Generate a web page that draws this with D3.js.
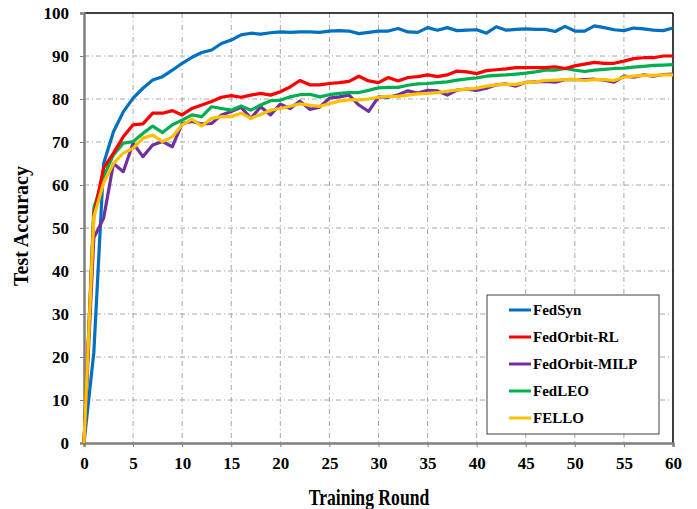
<!DOCTYPE html>
<html>
<head>
<meta charset="utf-8">
<script src="https://cdn.jsdelivr.net/npm/d3@7"></script>
<style>
  body { margin: 0; background: #fff; }
  text { font-family: "Liberation Serif", "Times New Roman", serif; font-weight: bold; }
</style>
</head>
<body>
<script>
// rounds 0..60
const rounds = d3.range(0, 61);

const fedSyn = [0, 21, 65, 72.4, 77, 80.2, 82.5, 84.4, 85.2, 86.7, 88.3, 89.7, 90.8, 91.4, 92.9, 93.7, 94.9, 95.3, 95.1, 95.4,
  95.6, 95.5, 95.6, 95.6, 95.5, 95.8, 95.9, 95.8, 95.2, 95.5, 95.8, 95.8, 96.4, 95.6, 95.5, 96.6, 96.0, 96.6, 95.9, 96.0,
  96.1, 95.3, 96.8, 96.0, 96.2, 96.3, 96.2, 96.2, 95.7, 96.9, 95.8, 95.8, 97.0, 96.6, 96.1, 95.9, 96.5, 96.3, 96.0, 95.9, 96.5];
const fedOrbitRL = [0, 53, 64, 67.4, 71.2, 74.0, 74.2, 76.7, 76.7, 77.3, 76.3, 77.8, 78.6, 79.4, 80.4, 80.8, 80.4, 80.9, 81.3, 80.9,
  81.7, 82.8, 84.3, 83.3, 83.3, 83.6, 83.8, 84.1, 85.3, 84.2, 83.8, 85.0, 84.2, 85.0, 85.2, 85.6, 85.2, 85.6, 86.5, 86.3,
  85.9, 86.6, 86.8, 87.0, 87.3, 87.3, 87.3, 87.3, 87.5, 87.1, 87.7, 88.1, 88.5, 88.3, 88.3, 88.8, 89.4, 89.6, 89.6, 90.0, 90.0];
const fedOrbitMILP = [0, 47.7, 52.3, 65, 63.1, 69.7, 66.6, 69.3, 70.1, 68.9, 74.3, 74.8, 74.2, 74.3, 76.3, 77.1, 78.1, 75.5, 78.2, 76.3,
  78.8, 77.8, 79.5, 77.6, 78.1, 80.2, 80.5, 80.9, 78.6, 77.1, 80.5, 80.4, 81.0, 81.9, 81.4, 82.0, 81.9, 80.9, 82.1, 82.3,
  82.0, 82.5, 83.3, 83.5, 83.0, 83.9, 84.0, 84.1, 83.9, 84.5, 84.5, 84.5, 84.6, 84.4, 83.9, 85.3, 85.1, 85.6, 85.3, 85.7, 85.8];
const fedLEO = [0, 54.6, 62, 67, 69.7, 70.1, 72.0, 73.7, 72.2, 74.0, 75.1, 76.3, 75.9, 78.2, 77.8, 77.4, 78.4, 77.4, 78.6, 79.6,
  79.7, 80.5, 81.0, 81.1, 80.5, 81.0, 81.3, 81.5, 81.5, 82.0, 82.6, 82.7, 82.7, 83.2, 83.5, 83.6, 83.8, 84.0, 84.4, 84.7,
  84.9, 85.3, 85.5, 85.6, 85.8, 86.0, 86.3, 86.7, 86.7, 87.1, 86.7, 86.4, 86.7, 86.9, 87.1, 87.2, 87.4, 87.6, 87.8, 87.9, 88.0];
const fello = [0, 52.6, 60.5, 65, 67.4, 68.5, 70.9, 71.6, 70.1, 71.2, 74.0, 75.3, 73.7, 75.5, 75.9, 75.9, 76.7, 75.5, 76.4, 77.4,
  77.8, 78.3, 78.9, 78.5, 78.3, 78.9, 79.5, 79.8, 79.8, 80.0, 80.4, 80.6, 80.6, 80.9, 81.2, 81.3, 81.5, 81.8, 82.1, 82.3,
  82.5, 83.0, 83.3, 83.4, 83.4, 83.8, 84.0, 84.3, 84.4, 84.5, 84.6, 84.3, 84.5, 84.5, 84.3, 85.1, 85.3, 85.5, 85.5, 85.6, 85.6];

const seriesNames = ["FedSyn", "FedOrbit-RL", "FedOrbit-MILP", "FedLEO", "FELLO"];
const seriesColors = ["#0070C0", "#FF0000", "#7030A0", "#00B050", "#FFC000"];
const seriesValues = [fedSyn, fedOrbitRL, fedOrbitMILP, fedLEO, fello];
// drawing order (last on top)
const drawOrder = [0, 2, 3, 1, 4];

const xTicks = d3.range(0, 61, 5);
const yTicks = d3.range(0, 101, 10);

const W = 697, H = 509;
const margin = { top: 13, right: 24, bottom: 66, left: 84 };
const width = W - margin.left - margin.right,
  height = H - margin.top - margin.bottom;

const svg = d3.select("body").append("svg")
  .attr("width", W).attr("height", H);

const g = svg.append("g")
  .attr("transform", `translate(${margin.left},${margin.top})`);

const x = d3.scaleLinear().domain([0, 60]).range([0, width]);
const y = d3.scaleLinear().domain([0, 100]).range([height, 0]);

// grid
g.append("g").selectAll("line.gx")
  .data(xTicks.slice(1, -1))
  .join("line")
  .attr("x1", d => x(d)).attr("x2", d => x(d))
  .attr("y1", 0).attr("y2", height)
  .attr("stroke", "#a6a6a6").attr("stroke-width", 1)
  .attr("stroke-dasharray", "5,3,1,3");
g.append("g").selectAll("line.gy")
  .data(yTicks.slice(1, -1))
  .join("line")
  .attr("x1", 0).attr("x2", width)
  .attr("y1", d => y(d)).attr("y2", d => y(d))
  .attr("stroke", "#a6a6a6").attr("stroke-width", 1)
  .attr("stroke-dasharray", "5,3,1,3");

// frame top/right
g.append("line").attr("x1", 0).attr("x2", width).attr("y1", 0).attr("y2", 0)
  .attr("stroke", "#000").attr("stroke-width", 1.5);
g.append("line").attr("x1", width).attr("x2", width).attr("y1", 0).attr("y2", height)
  .attr("stroke", "#000").attr("stroke-width", 1.5);

// axes
const xAxis = g.append("g")
  .attr("transform", `translate(0,${height})`)
  .call(d3.axisBottom(x).tickValues(xTicks).tickSize(4).tickPadding(10));
const yAxis = g.append("g")
  .call(d3.axisLeft(y).tickValues(yTicks).tickSize(4).tickPadding(11));

[xAxis, yAxis].forEach(a => {
  a.select(".domain").attr("stroke", "#7f7f7f").attr("stroke-width", 2.5);
  a.selectAll(".tick line").attr("stroke", "#7f7f7f").attr("stroke-width", 1);
  a.selectAll(".tick text")
    .style("font-family", "'Liberation Serif', serif")
    .style("font-weight", "bold")
    .style("font-size", "17px")
    .attr("fill", "#000");
});

// lines
const line = d3.line()
  .x((d, i) => x(rounds[i]))
  .y(d => y(d));

g.append("g").selectAll("path")
  .data(drawOrder)
  .join("path")
  .attr("d", i => line(seriesValues[i]))
  .attr("fill", "none")
  .attr("stroke", i => seriesColors[i])
  .attr("stroke-width", 3.2)
  .attr("stroke-linejoin", "round");

// axis titles
svg.append("text")
  .attr("transform", "translate(369,505) scale(0.75,1)")
  .attr("text-anchor", "middle")
  .style("font-size", "23.5px")
  .text("Training Round");
svg.append("text")
  .attr("transform", "translate(28,226) rotate(-90)")
  .attr("text-anchor", "middle")
  .style("font-size", "20px")
  .text("Test Accuracy");

// legend
const legend = svg.append("g").attr("transform", "translate(487,295)");
legend.append("rect")
  .attr("width", 172).attr("height", 139)
  .attr("fill", "#fff").attr("stroke", "#404040").attr("stroke-width", 1);
const items = legend.selectAll("g.item")
  .data(seriesNames)
  .join("g")
  .attr("transform", (d, i) => `translate(0,${15 + i * 27})`);
items.append("line")
  .attr("x1", 22).attr("x2", 44)
  .attr("stroke", (d, i) => seriesColors[i])
  .attr("stroke-width", 3);
items.append("text")
  .attr("x", 46).attr("dy", "0.35em")
  .style("font-size", "15px")
  .text(d => d);
</script>
</body>
</html>
